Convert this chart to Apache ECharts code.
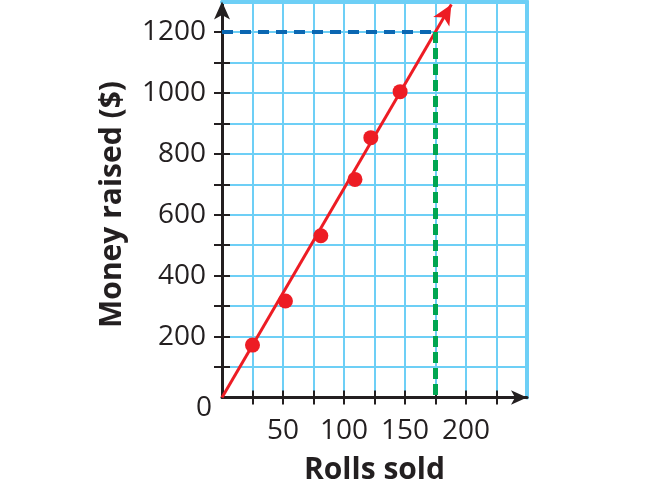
<!DOCTYPE html>
<html>
<head>
<meta charset="utf-8">
<script src="https://cdn.jsdelivr.net/npm/echarts@6/dist/echarts.min.js"></script>
<style>
html,body{margin:0;padding:0;background:#fff;}
#chart{width:660px;height:493px;}
</style>
</head>
<body>
<div id="chart"></div>
<script>
// ---- data ----
const rollsSold = [25, 52, 81, 109, 122, 146];
const moneyRaised = [172, 317, 531, 716, 853, 1004];
const trendStart = [0, 0];
const trendEnd = [188, 1290];
const goalRolls = 175;
const goalMoney = 1200;
const xTickValues = [25, 50, 75, 100, 125, 150, 175, 200, 225];
const yTickValues = [100, 200, 300, 400, 500, 600, 700, 800, 900, 1000, 1100, 1200];
const xTickLabels = [50, 100, 150, 200];
const yTickLabels = [200, 400, 600, 800, 1000, 1200];
const originLabel = '0';
const xTitle = 'Rolls sold';
const yTitle = 'Money raised ($)';

const ink = '#231f20';
const gridCyan = '#6dcff6';
const font = '"Open Sans", "DejaVu Sans", sans-serif';

const chart = echarts.init(document.getElementById('chart'), null, {renderer: 'canvas'});

const baseX = {type: 'value', min: 0, max: 250, interval: 25, gridIndex: 0};
const baseY = {type: 'value', min: 0, max: 1300, interval: 100, gridIndex: 0};
const none = {show: false};
const plain = v => String(v);

const option = {
  animation: false,
  backgroundColor: '#fff',
  grid: {left: 222, right: 133, top: 1.5, bottom: 95.5, containLabel: false},
  xAxis: [
    Object.assign({}, baseX, {
      position: 'bottom',
      axisLine: {show: true, onZero: false, lineStyle: {color: ink, width: 3},
        symbol: ['none', 'arrow'], symbolSize: [11, 16], symbolOffset: [0, 0]},
      axisTick: {show: true, length: 7, customValues: xTickValues, lineStyle: {color: ink, width: 2}},
      axisLabel: {show: true, margin: 20, color: ink, fontSize: 28, fontFamily: font,
        customValues: xTickLabels, formatter: plain},
      splitLine: {show: true, lineStyle: {color: gridCyan, width: 2}},
      name: xTitle, nameLocation: 'middle', nameGap: 58,
      nameTextStyle: {color: ink, fontSize: 30, fontWeight: 'bold', fontFamily: font}
    }),
    Object.assign({}, baseX, {
      position: 'bottom',
      axisLine: {show: false, onZero: false},
      axisTick: {show: true, inside: true, length: 7, customValues: xTickValues, lineStyle: {color: ink, width: 2}},
      axisLabel: none, splitLine: none
    }),
    Object.assign({}, baseX, {
      position: 'top',
      axisLine: {show: true, onZero: false, lineStyle: {color: gridCyan, width: 4}},
      axisTick: none, axisLabel: none, splitLine: none
    })
  ],
  yAxis: [
    Object.assign({}, baseY, {
      position: 'left',
      axisLine: {show: true, onZero: false, lineStyle: {color: ink, width: 3},
        symbol: ['none', 'arrow'], symbolSize: [12, 18], symbolOffset: [0, 0]},
      axisTick: {show: true, length: 8, customValues: yTickValues, lineStyle: {color: ink, width: 2}},
      axisLabel: {show: true, margin: 16, color: ink, fontSize: 28, fontFamily: font,
        customValues: yTickLabels, formatter: plain},
      splitLine: {show: true, lineStyle: {color: gridCyan, width: 2}},
      name: yTitle, nameLocation: 'middle', nameGap: 95,
      nameTextStyle: {color: ink, fontSize: 30, fontWeight: 'bold', fontFamily: font, padding: [0, 10, 0, 0]}
    }),
    Object.assign({}, baseY, {
      position: 'left',
      axisLine: {show: false, onZero: false},
      axisTick: {show: true, inside: true, length: 8, customValues: yTickValues, lineStyle: {color: ink, width: 2}},
      axisLabel: none, splitLine: none
    }),
    Object.assign({}, baseY, {
      position: 'right',
      axisLine: {show: true, onZero: false, lineStyle: {color: gridCyan, width: 4}},
      axisTick: none, axisLabel: none, splitLine: none
    })
  ],
  graphic: [{
    type: 'text', left: 196, top: 394, z: 100,
    style: {text: originLabel, fill: ink, font: '28px ' + font}
  }],
  series: [
    {
      type: 'line', xAxisIndex: 0, yAxisIndex: 0,
      data: [[0, goalMoney], [goalRolls, goalMoney]],
      symbol: 'none', silent: true, z: 10,
      lineStyle: {color: '#0b67b2', width: 4, type: [11, 7]}
    },
    {
      type: 'line', xAxisIndex: 0, yAxisIndex: 0,
      data: [[goalRolls, goalMoney], [goalRolls, 0]],
      symbol: 'none', silent: true, z: 10,
      lineStyle: {color: '#00a651', width: 5, type: [11, 5]}
    },
    {
      type: 'line', xAxisIndex: 0, yAxisIndex: 0,
      data: [], symbol: 'none', z: 11,
      markLine: {
        silent: true, animation: false,
        symbol: ['none', 'arrow'], symbolSize: [14, 20],
        label: {show: false},
        lineStyle: {color: '#ed1c24', width: 3, type: 'solid'},
        emphasis: {disabled: true},
        data: [[{coord: trendStart}, {coord: trendEnd}]]
      }
    },
    {
      type: 'scatter', xAxisIndex: 0, yAxisIndex: 0, z: 12,
      data: rollsSold.map((r, i) => [r, moneyRaised[i]]),
      symbol: 'circle', symbolSize: 15,
      itemStyle: {color: '#ed1c24', opacity: 1}
    }
  ]
};
chart.setOption(option);
</script>
</body>
</html>
